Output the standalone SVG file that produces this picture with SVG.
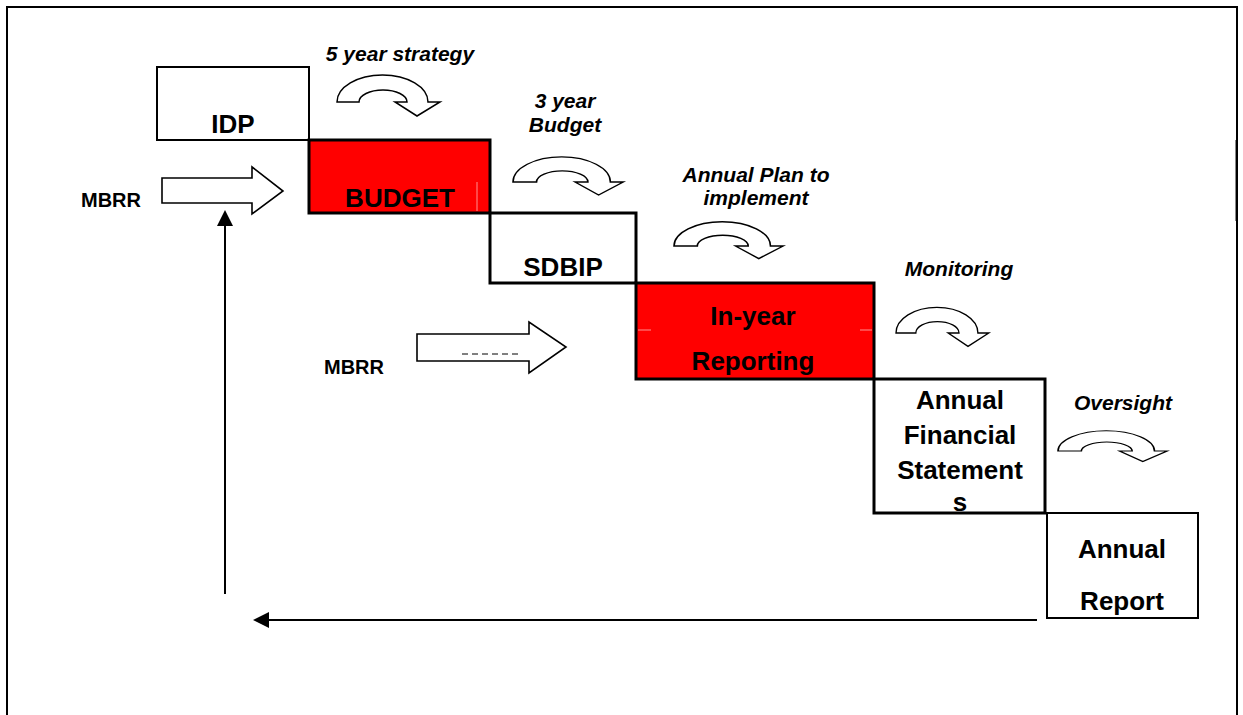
<svg xmlns="http://www.w3.org/2000/svg" width="1243" height="715" viewBox="0 0 1243 715">
<style>
.box{stroke:#000;fill:#fff}
.red{fill:#ff0000}
.nt{font-family:"Liberation Sans",Arial,sans-serif;font-weight:bold;font-size:26px;fill:#000;text-anchor:middle}
.lb{font-family:"Liberation Sans",Arial,sans-serif;font-weight:bold;font-style:italic;font-size:21px;fill:#000;text-anchor:middle}
.mb{font-family:"Liberation Sans",Arial,sans-serif;font-weight:bold;font-size:20px;fill:#000}
.curl{fill:#fff;stroke:#000;stroke-width:1.5;vector-effect:non-scaling-stroke}
.blk{fill:#fff;stroke:#000;stroke-width:1.6}
.ln{stroke:#000;stroke-width:2;fill:none}
</style>
<defs>
<path id="curl" d="M0,0 A45.5,27 0 0 1 91,0 L103,0 L80,14 L58,0 L70,0 A24,12 0 0 0 22,0 Z"/>
<marker id="ah" markerUnits="userSpaceOnUse" markerWidth="16" markerHeight="16" refX="0" refY="8" orient="auto">
<path d="M0,0 L16,8 L0,16 Z" fill="#000"/>
</marker>
</defs>
<rect width="1243" height="715" fill="#fff"/>
<rect x="7" y="7" width="1230" height="720" fill="none" stroke="#000" stroke-width="2"/>
<line x1="1235.5" y1="140" x2="1235.5" y2="221" stroke="#888" stroke-width="1"/>

<g id="idp">
<rect class="box" x="157" y="67" width="152" height="73" stroke-width="2"/>
<text class="nt" x="233" y="133">IDP</text>
</g>
<g id="budget">
<rect class="box red" x="309" y="140" width="181" height="73" stroke-width="3"/>
<line x1="477" y1="182" x2="477" y2="211" stroke="#ff9090" stroke-width="1"/>
<text class="nt" x="400" y="207">BUDGET</text>
</g>
<g id="sdbip">
<rect class="box" x="490" y="213" width="146" height="70" stroke-width="3"/>
<text class="nt" x="563" y="276">SDBIP</text>
</g>
<g id="inyear">
<rect class="box red" x="636" y="283" width="238" height="96" stroke-width="3"/>
<line x1="638" y1="330" x2="651" y2="330" stroke="#ff9090" stroke-width="1"/>
<line x1="860" y1="330" x2="872" y2="330" stroke="#ff9090" stroke-width="1"/>
<text class="nt" x="753" y="325">In-year</text>
<text class="nt" x="753" y="370">Reporting</text>
</g>
<g id="afs">
<rect class="box" x="874" y="379" width="171" height="134" stroke-width="3"/>
<text class="nt" x="960" y="409">Annual</text>
<text class="nt" x="960" y="444">Financial</text>
<text class="nt" x="960" y="479">Statement</text>
<text class="nt" x="960" y="511">s</text>
</g>
<g id="annualreport">
<rect class="box" x="1047" y="513" width="151" height="105" stroke-width="2"/>
<text class="nt" x="1122" y="558">Annual</text>
<text class="nt" x="1122" y="610">Report</text>
</g>

<g id="mbrr1">
<polygon class="blk" points="162,178 252,178 252,167 283,191 252,214 252,203 162,203"/>
<text class="mb" x="81" y="207">MBRR</text>
</g>
<g id="mbrr2">
<polygon class="blk" points="417,334 529,334 529,322 566,347 529,373 529,361 417,361"/>
<line x1="462" y1="354" x2="520" y2="354" stroke="#000" stroke-width="1" stroke-dasharray="6,4"/>
<text class="mb" x="324" y="374">MBRR</text>
</g>

<g id="step-labels">
<g id="lbl-5year">
<text class="lb" x="400" y="61">5 year strategy</text>
<use href="#curl" class="curl" transform="translate(337,102)"/>
</g>
<g id="lbl-3year">
<text class="lb" x="565" y="108">3 year</text>
<text class="lb" x="565" y="132">Budget</text>
<use href="#curl" class="curl" transform="translate(513,182) scale(1.07,0.93)"/>
</g>
<g id="lbl-annualplan">
<text class="lb" x="756" y="182">Annual Plan to</text>
<text class="lb" x="756" y="205">implement</text>
<use href="#curl" class="curl" transform="translate(674,246) scale(1.06,0.9)"/>
</g>
<g id="lbl-monitoring">
<text class="lb" x="959" y="276">Monitoring</text>
<use href="#curl" class="curl" transform="translate(896,333) scale(0.9,0.95)"/>
</g>
<g id="lbl-oversight">
<text class="lb" x="1123" y="410">Oversight</text>
<use href="#curl" class="curl" transform="translate(1058,451) scale(1.06,0.75)"/>
</g>
</g>

<g id="connectors">
<line class="ln" x1="1037" y1="620" x2="269" y2="620" marker-end="url(#ah)"/>
<line class="ln" x1="225" y1="594" x2="225" y2="226" marker-end="url(#ah)"/>
</g>
</svg>
